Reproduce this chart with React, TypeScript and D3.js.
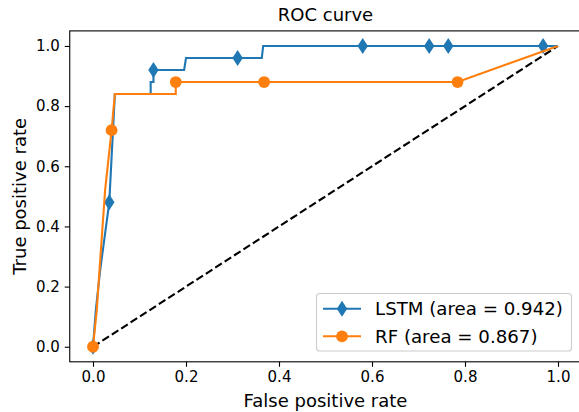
import React, { useEffect, useRef } from 'react';
import * as d3 from 'd3';

// ROC points
const lstmFpr = [0, 0.006, 0.015, 0.035, 0.047, 0.124, 0.124, 0.13, 0.13, 0.196, 0.2, 0.363, 0.366, 1.0];
const lstmTpr = [0, 0.12, 0.25, 0.48, 0.84, 0.84, 0.88, 0.88, 0.92, 0.92, 0.96, 0.96, 1.0, 1.0];
const lstmMarkFpr = [0, 0.035, 0.13, 0.311, 0.58, 0.723, 0.764, 0.968];
const lstmMarkTpr = [0, 0.48, 0.92, 0.96, 1.0, 1.0, 1.0, 1.0];

const rfFpr = [0, 0.008, 0.016, 0.026, 0.04, 0.047, 0.178, 0.178, 0.784, 1.0];
const rfTpr = [0, 0.12, 0.3, 0.52, 0.72, 0.84, 0.84, 0.88, 0.88, 1.0];
const rfMarkFpr = [0, 0.04, 0.178, 0.368, 0.784];
const rfMarkTpr = [0, 0.72, 0.88, 0.88, 0.88];

const ticks = [0, 0.2, 0.4, 0.6, 0.8, 1.0];
const legendLabels = ['LSTM (area = 0.942)', 'RF (area = 0.867)'];

const W = 579;
const H = 412;
const FONT = 'DejaVu Sans, sans-serif';
const BLUE = '#1f77b4';
const ORANGE = '#ff7f0e';

const zip = (xs: number[], ys: number[]) => xs.map((x, i) => [x, ys[i]] as [number, number]);

const App = () => {
  const ref = useRef<SVGSVGElement>(null);

  useEffect(() => {
    const svg = d3.select(ref.current);
    svg.selectAll('*').remove();

    const x = d3.scaleLinear().domain([-0.05, 1.05]).range([69.75, 581.25]);
    const y = d3.scaleLinear().domain([-0.05, 1.05]).range([361.8, 30.9]);

    const line = d3.line<[number, number]>().x(d => x(d[0])).y(d => y(d[1]));

    // axes
    const gx = svg.append('g').attr('transform', `translate(0,${y(-0.05)})`)
      .call(d3.axisBottom(x).tickValues(ticks).tickFormat(d3.format('.1f')).tickSize(5).tickPadding(5));
    const gy = svg.append('g').attr('transform', `translate(${x(-0.05)},0)`)
      .call(d3.axisLeft(y).tickValues(ticks).tickFormat(d3.format('.1f')).tickSize(5).tickPadding(5));
    [gx, gy].forEach(g => {
      g.select('.domain').remove();
      g.selectAll('line').attr('stroke', '#000').attr('stroke-width', 1.1);
      g.selectAll('text').attr('font-family', FONT).attr('font-size', 15).attr('fill', '#000');
    });

    // dashed diagonal
    svg.append('path')
      .attr('d', line([[0, 0], [1, 1]]))
      .attr('fill', 'none')
      .attr('stroke', '#000')
      .attr('stroke-width', 2.1)
      .attr('stroke-dasharray', '7.8,3.4');

    const diamond = (cx: number, cy: number) =>
      `M${cx},${cy - 8}L${cx + 5.2},${cy}L${cx},${cy + 8}L${cx - 5.2},${cy}Z`;

    // LSTM
    svg.append('path')
      .attr('d', line(zip(lstmFpr, lstmTpr)))
      .attr('fill', 'none').attr('stroke', BLUE).attr('stroke-width', 2.1);
    svg.append('g').selectAll('path').data(zip(lstmMarkFpr, lstmMarkTpr)).enter()
      .append('path')
      .attr('d', d => diamond(x(d[0]), y(d[1])))
      .attr('fill', BLUE);

    // RF
    svg.append('path')
      .attr('d', line(zip(rfFpr, rfTpr)))
      .attr('fill', 'none').attr('stroke', ORANGE).attr('stroke-width', 2.1);
    svg.append('g').selectAll('circle').data(zip(rfMarkFpr, rfMarkTpr)).enter()
      .append('circle')
      .attr('cx', d => x(d[0])).attr('cy', d => y(d[1])).attr('r', 5.9)
      .attr('fill', ORANGE);

    // spines
    svg.append('rect')
      .attr('x', x(-0.05)).attr('y', y(1.05))
      .attr('width', x(1.05) - x(-0.05)).attr('height', y(-0.05) - y(1.05))
      .attr('fill', 'none').attr('stroke', '#000').attr('stroke-width', 1.1);

    // legend
    const lg = svg.append('g');
    lg.append('rect')
      .attr('x', 316.5).attr('y', 293.5).attr('width', 255).attr('height', 57.5)
      .attr('rx', 3).attr('fill', 'rgba(255,255,255,0.8)')
      .attr('stroke', '#cccccc').attr('stroke-width', 1.1);
    legendLabels.forEach((lab, i) => {
      const cy = 308.7 + i * 27.6;
      const col = i === 0 ? BLUE : ORANGE;
      lg.append('line').attr('x1', 323).attr('x2', 361).attr('y1', cy).attr('y2', cy)
        .attr('stroke', col).attr('stroke-width', 2.1);
      if (i === 0) lg.append('path').attr('d', diamond(342, cy)).attr('fill', col);
      else lg.append('circle').attr('cx', 342).attr('cy', cy).attr('r', 5.9).attr('fill', col);
      lg.append('text').attr('x', 375).attr('y', cy + 6.2)
        .attr('font-family', FONT).attr('font-size', 18.2).text(lab);
    });

    // titles
    const cx = (x(-0.05) + x(1.05)) / 2;
    svg.append('text').attr('x', cx).attr('y', 20.7).attr('text-anchor', 'middle')
      .attr('font-family', FONT).attr('font-size', 18).text('ROC curve');
    svg.append('text').attr('x', cx).attr('y', 406.5).attr('text-anchor', 'middle')
      .attr('font-family', FONT).attr('font-size', 18).text('False positive rate');
    svg.append('text')
      .attr('transform', `translate(25.5,${(y(-0.05) + y(1.05)) / 2}) rotate(-90)`)
      .attr('text-anchor', 'middle')
      .attr('font-family', FONT).attr('font-size', 18).text('True positive rate');
  }, []);

  return (
    <svg ref={ref} width={W} height={H} style={{ position: 'absolute', left: 0, top: 0, background: '#fff' }} />
  );
};

export default App;
